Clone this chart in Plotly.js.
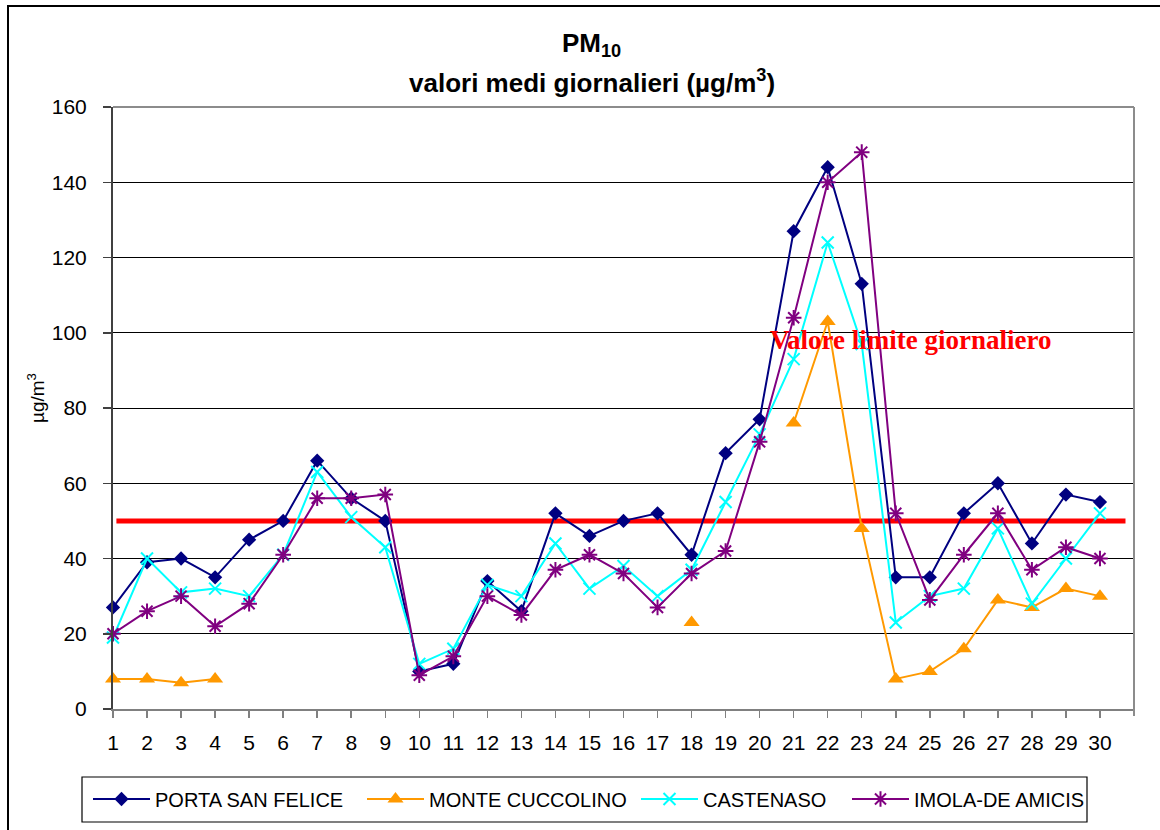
<!DOCTYPE html>
<html>
<head>
<meta charset="utf-8">
<script src="https://cdn.plot.ly/plotly-3.0.1.min.js"></script>
<style>
  html, body { margin: 0; padding: 0; background: #fff; }
  #chart { width: 1160px; height: 830px; }
</style>
</head>
<body>
<div id="chart"></div>
<script>
// ---- data ----
const days = [1,2,3,4,5,6,7,8,9,10,11,12,13,14,15,16,17,18,19,20,21,22,23,24,25,26,27,28,29,30];
const dayLabels = ["1","2","3","4","5","6","7","8","9","10","11","12","13","14","15","16","17","18","19","20","21","22","23","24","25","26","27","28","29","30"];
const seriesNames = ["PORTA SAN FELICE", "MONTE CUCCOLINO", "CASTENASO", "IMOLA-DE AMICIS"];
const portaSanFelice = [27,39,40,35,45,50,66,56,50,10,12,34,26,52,46,50,52,41,68,77,127,144,113,35,35,52,60,44,57,55];
const monteCuccolino = [8,8,7,8,null,null,null,null,null,null,null,null,null,null,null,null,null,23,null,null,76,103,48,8,10,16,29,27,32,30];
const castenaso = [19,40,31,32,30,41,63,51,43,12,16,33,30,44,32,38,30,37,55,73,93,124,97,23,30,32,48,28,40,52];
const imolaDeAmicis = [20,26,30,22,28,41,56,56,57,9,14,30,25,37,41,36,27,36,42,71,104,140,148,52,29,41,52,37,43,40];
const limitValue = 50;
const limitLabel = "Valore limite giornaliero";
const yTicks = [0,20,40,60,80,100,120,140,160];

// ---- geometry helpers (pixels -> paper) ----
const W = 1160, H = 830;
const M = {l: 113, r: 26, t: 107, b: 121};
const pw = W - M.l - M.r, ph = H - M.t - M.b;
const px = x => (x - M.l) / pw;
const py = y => (H - M.b - y) / ph;

const FONT = "Liberation Sans, Arial, sans-serif";

const traces = [
  {x: days, y: portaSanFelice, name: seriesNames[0], mode: "lines+markers", legend: "legend",
   line: {color: "#000080", width: 2}, marker: {symbol: "diamond", size: 11, color: "#000080"}, cliponaxis: false},
  {x: days, y: monteCuccolino, name: seriesNames[1], mode: "lines+markers", legend: "legend2",
   line: {color: "#FF9900", width: 2}, marker: {symbol: "triangle-up", size: 14, color: "#FF9900"}, cliponaxis: false, connectgaps: false},
  {x: days, y: castenaso, name: seriesNames[2], mode: "lines+markers", legend: "legend3",
   line: {color: "#00FFFF", width: 2}, marker: {symbol: "x-thin-open", size: 12, color: "#00FFFF", line: {color: "#00FFFF", width: 2}}, cliponaxis: false},
  {x: days, y: imolaDeAmicis, name: seriesNames[3], mode: "lines+markers", legend: "legend4",
   line: {color: "#800080", width: 2}, marker: {symbol: "asterisk-open", size: 13, color: "#800080", line: {color: "#800080", width: 2}}, cliponaxis: false}
];

function legendAt(xpx) {
  return {orientation: "h", x: xpx / W, xref: "container", xanchor: "left",
          y: 1 - 799 / H, yref: "container", yanchor: "middle",
          bgcolor: "rgba(0,0,0,0)", borderwidth: 0, itemwidth: 57,
          font: {family: FONT, size: 20, color: "#000"}};
}

const layout = {
  width: W, height: H,
  margin: M,
  paper_bgcolor: "#fff", plot_bgcolor: "#fff",
  showlegend: true,
  legend: legendAt(88),
  legend2: legendAt(362),
  legend3: legendAt(636),
  legend4: legendAt(847),
  xaxis: {
    range: [1, 31], tickvals: days, ticktext: dayLabels,
    showgrid: false, zeroline: false,
    showline: true, linecolor: "#808080", linewidth: 2,
    ticks: "outside", ticklen: 7, tickcolor: "#808080", tickwidth: 1.5,
    ticklabelstandoff: 7,
    tickfont: {family: FONT, size: 21, color: "#000"}
  },
  yaxis: {
    range: [0, 160], tickvals: yTicks,
    showgrid: true, gridcolor: "#000", gridwidth: 1, zeroline: false,
    showline: true, linecolor: "#404040", linewidth: 2,
    ticks: "outside", ticklen: 8, tickcolor: "#404040", tickwidth: 1.5,
    ticklabelstandoff: 12,
    tickfont: {family: FONT, size: 21, color: "#000"}
  },
  shapes: [
    // limit line
    {type: "line", xref: "x", yref: "y", x0: 1.1, x1: 30.75, y0: limitValue, y1: limitValue,
     line: {color: "#FF0000", width: 5}, layer: "between"},
    // plot area top and right borders
    {type: "line", xref: "paper", yref: "paper", x0: 0, x1: 1, y0: 1, y1: 1, line: {color: "#8c8c8c", width: 2}},
    {type: "line", xref: "paper", yref: "paper", x0: 1, x1: 1, y0: py(716), y1: 1, line: {color: "#8c8c8c", width: 2}},
    // legend box
    {type: "rect", xref: "paper", yref: "paper", x0: px(82), x1: px(1087), y0: py(822), y1: py(777),
     line: {color: "#000", width: 1.2}},
    // outer chart frame
    {type: "rect", xref: "paper", yref: "paper", x0: px(8), x1: px(1175), y0: py(845), y1: py(6),
     line: {color: "#000", width: 2}}
  ],
  annotations: [
    {text: "<b>PM<sub>10</sub></b>", xref: "paper", yref: "paper", x: px(591), y: py(44),
     showarrow: false, xanchor: "center", yanchor: "middle", font: {family: FONT, size: 26, color: "#000"}},
    {text: "<b>valori medi giornalieri (µg/m<sup>3</sup>)</b>", xref: "paper", yref: "paper", x: px(592), y: py(81),
     showarrow: false, xanchor: "center", yanchor: "middle", font: {family: FONT, size: 26, color: "#000"}},
    {text: "µg/m<sup>3</sup>", xref: "paper", yref: "paper", x: px(36), y: py(398), textangle: -90,
     showarrow: false, xanchor: "center", yanchor: "middle", font: {family: FONT, size: 19, color: "#000"}},
    {text: "<b>" + limitLabel + "</b>", xref: "paper", yref: "paper", x: px(910), y: py(340),
     showarrow: false, xanchor: "center", yanchor: "middle",
     font: {family: "Liberation Serif, Times New Roman, serif", size: 27, color: "#FF0000"}}
  ]
};

Plotly.newPlot("chart", traces, layout, {displayModeBar: false, staticPlot: true});
</script>
</body>
</html>
